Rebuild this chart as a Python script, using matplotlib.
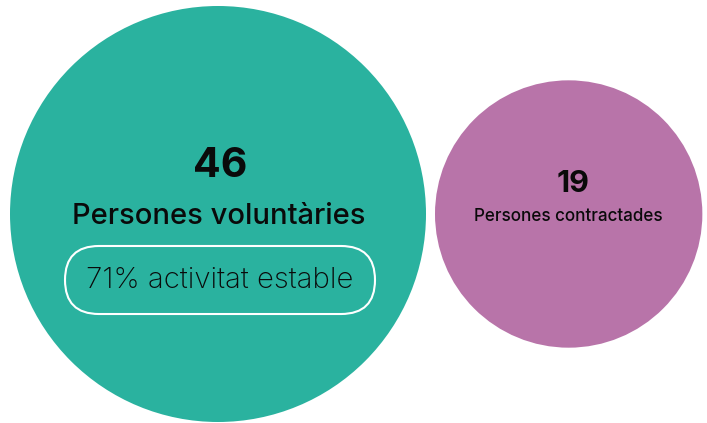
import matplotlib
matplotlib.use("Agg")
import matplotlib.pyplot as plt
from matplotlib.patches import Circle, FancyBboxPatch
import numpy as np

# Data
categories = ["Persones voluntàries", "Persones contractades"]
values = [46, 19]
colors = ["#2AB29F", "#B874A9"]
badge_text = "71% activitat estable"

plt.rcParams['font.family'] = ['Inter', 'DejaVu Sans']

W, H = 707, 423
fig = plt.figure(figsize=(W / 100, H / 100), dpi=100)
ax = fig.add_axes([0, 0, 1, 1])
ax.set_xlim(0, W)
ax.set_ylim(H, 0)
ax.set_aspect('equal')
ax.axis('off')

k = 208 / np.sqrt(values[0])
radii = [k * np.sqrt(v) for v in values]
cy = 214
centers = [(10 + radii[0], cy), (435 + radii[1], cy)]

for (cx, cyy), r, col in zip(centers, radii, colors):
    ax.add_patch(Circle((cx, cyy), r, facecolor=col, edgecolor='none', zorder=1))

# Big circle texts
cx0 = centers[0][0] + 1
ax.text(cx0 + 1, 177, str(values[0]), ha='center', va='baseline', fontsize=29.5,
        fontweight='bold', color='#0a0a0a', zorder=3)
ax.text(cx0, 224, categories[0], ha='center', va='baseline', fontsize=21,
        fontweight='medium', color='#0a0a0a', zorder=3)
pill_w, pill_h = 310, 68
pcx = 220
ax.add_patch(FancyBboxPatch((pcx - pill_w / 2 + pill_h / 2, 246 + pill_h / 2 - 0.01),
                            pill_w - pill_h, 0.02,
                            boxstyle=f"round,pad={pill_h/2},rounding_size={pill_h/2}",
                            facecolor='none', edgecolor='white', linewidth=1.5, zorder=2))
ax.text(pcx, 288, badge_text, ha='center', va='baseline', fontsize=21.2,
        fontweight='light', color='#0a0a0a', zorder=3)

# Small circle texts
cx1 = centers[1][0]
ax.text(cx1 + 4, 192, str(values[1]), ha='center', va='baseline', fontsize=22,
        fontweight='bold', color='#0a0a0a', zorder=3)
ax.text(cx1, 221, categories[1], ha='center', va='baseline', fontsize=12.3,
        fontweight='medium', color='#0a0a0a', zorder=3)

fig.savefig("out.png", dpi=100, facecolor='white')
